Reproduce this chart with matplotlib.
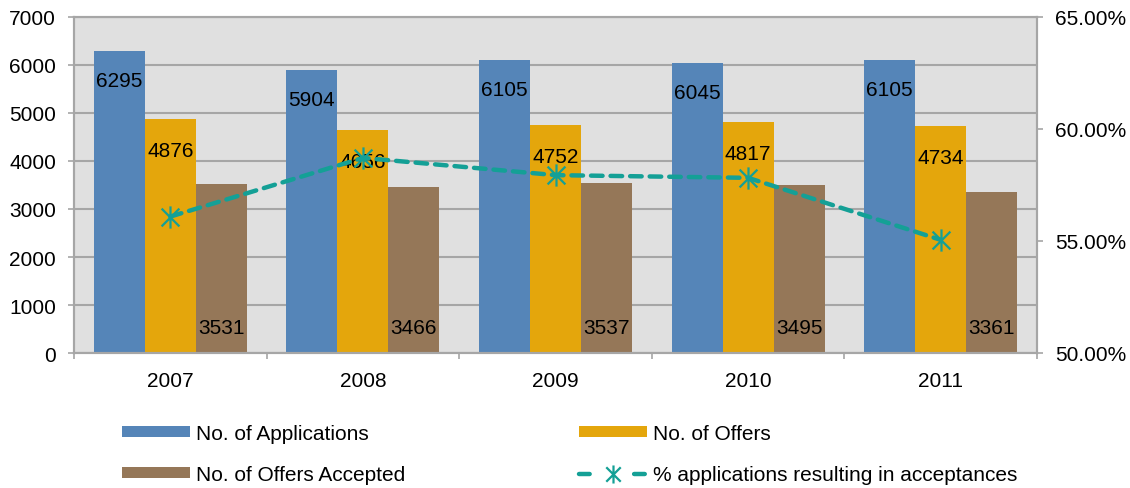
import numpy as np
import matplotlib
matplotlib.use("Agg")
import matplotlib.pyplot as plt
from matplotlib.path import Path
from matplotlib.lines import Line2D
from matplotlib.patches import Patch
from matplotlib.ticker import FixedLocator, FuncFormatter

plt.rcParams["font.family"] = ["Liberation Sans", "DejaVu Sans"]

# ---- data ----
years = ["2007", "2008", "2009", "2010", "2011"]
applications = [6295, 5904, 6105, 6045, 6105]
offers = [4876, 4656, 4752, 4817, 4734]
accepted = [3531, 3466, 3537, 3495, 3361]
pct_accept = [56.09, 58.71, 57.94, 57.82, 55.05]

# ---- colours ----
c_app = "#5585b8"
c_off = "#e4a60c"
c_acc = "#957758"
c_line = "#14a096"
c_grid = "#a6a6a6"
c_bg = "#e0e0e0"

FS = 15

fig = plt.figure(figsize=(11.3, 4.89), dpi=100)
ax = fig.add_axes([74 / 1130, 1 - 354 / 489, (1037 - 74) / 1130, (354 - 18) / 489])
ax.set_facecolor(c_bg)

x = np.arange(len(years))
w = 0.265

b1 = ax.bar(x - w, applications, w, color=c_app, zorder=2)
b2 = ax.bar(x, offers, w, color=c_off, zorder=2)
b3 = ax.bar(x + w, accepted, w, color=c_acc, zorder=2)

# value labels: top of bar for the first two series, bottom for the third
for rect, v in zip(b1, applications):
    ax.annotate(f"{v}", (rect.get_x() + rect.get_width() / 2, v),
                xytext=(0, -30), textcoords="offset pixels",
                ha="center", va="center", fontsize=FS, zorder=5)
for rect, v in zip(b2, offers):
    ax.annotate(f"{v}", (rect.get_x() + rect.get_width() / 2, v),
                xytext=(0, -32), textcoords="offset pixels",
                ha="center", va="center", fontsize=FS, zorder=5)
for rect, v in zip(b3, accepted):
    ax.annotate(f"{v}", (rect.get_x() + rect.get_width() / 2, 0),
                xytext=(0, 25), textcoords="offset pixels",
                ha="center", va="center", fontsize=FS, zorder=5)

ax.set_xlim(-0.5, len(years) - 0.5)
ax.set_ylim(0, 7000)
ax.set_yticks(range(0, 7001, 1000))
ax.yaxis.grid(True, color=c_grid, linewidth=1.5, zorder=0)
ax.set_axisbelow(True)

ax.set_xticks(x)
ax.set_xticklabels(years, fontsize=FS)
ax.xaxis.set_minor_locator(FixedLocator(np.arange(-0.5, len(years), 1.0)))
ax.tick_params(axis="x", which="major", length=0, pad=13)
ax.tick_params(axis="x", which="minor", length=4, width=1.2, color=c_grid, direction="out")
ax.tick_params(axis="y", length=4, width=1.2, color=c_grid, labelsize=FS, pad=9)

for side in ["left", "bottom", "right", "top"]:
    ax.spines[side].set_color(c_grid)
    ax.spines[side].set_linewidth(1.5)

# ---- secondary axis: acceptance rate ----
ax2 = ax.twinx()
ax2.set_ylim(50, 65)
ax2.set_yticks([50, 55, 60, 65])
ax2.yaxis.set_major_formatter(FuncFormatter(lambda v, _: f"{v:.2f}%"))
ax2.tick_params(axis="y", length=4, width=1.2, color=c_grid, labelsize=FS, pad=9)
for side in ["left", "bottom", "right", "top"]:
    ax2.spines[side].set_color(c_grid)
    ax2.spines[side].set_linewidth(1.5)

star = Path([(0, -1), (0, 1), (-0.8, -0.8), (0.8, 0.8), (-0.8, 0.8), (0.8, -0.8)],
            [Path.MOVETO, Path.LINETO, Path.MOVETO, Path.LINETO, Path.MOVETO, Path.LINETO])

ax2.plot(x, pct_accept, color=c_line, linewidth=3.2, linestyle=(0, (2.6, 1.8)),
         dash_capstyle="round", marker=star, markersize=16, markeredgewidth=1.6,
         markeredgecolor=c_line, zorder=4)

# ---- legend ----
handles = [
    Patch(facecolor=c_app),
    Patch(facecolor=c_acc),
    Patch(facecolor=c_off),
    Line2D([], [], color=c_line, linewidth=3.2, linestyle=(0, (2.4, 10.0)),
           dash_capstyle="round", marker=star, markersize=13,
           markeredgewidth=1.6, markeredgecolor=c_line),
]
labels = ["No. of Applications", "No. of Offers Accepted",
          "No. of Offers", "% applications resulting in acceptances"]
fig.legend(handles, labels, ncol=2, loc="upper left",
           bbox_to_anchor=(122 / 1130, 1 - 425 / 489),
           frameon=False, fontsize=FS, borderpad=0, borderaxespad=0,
           handlelength=3.27, handleheight=0.38, handletextpad=0.3,
           columnspacing=8.3, labelspacing=1.05)

fig.savefig("out.png", dpi=100)
